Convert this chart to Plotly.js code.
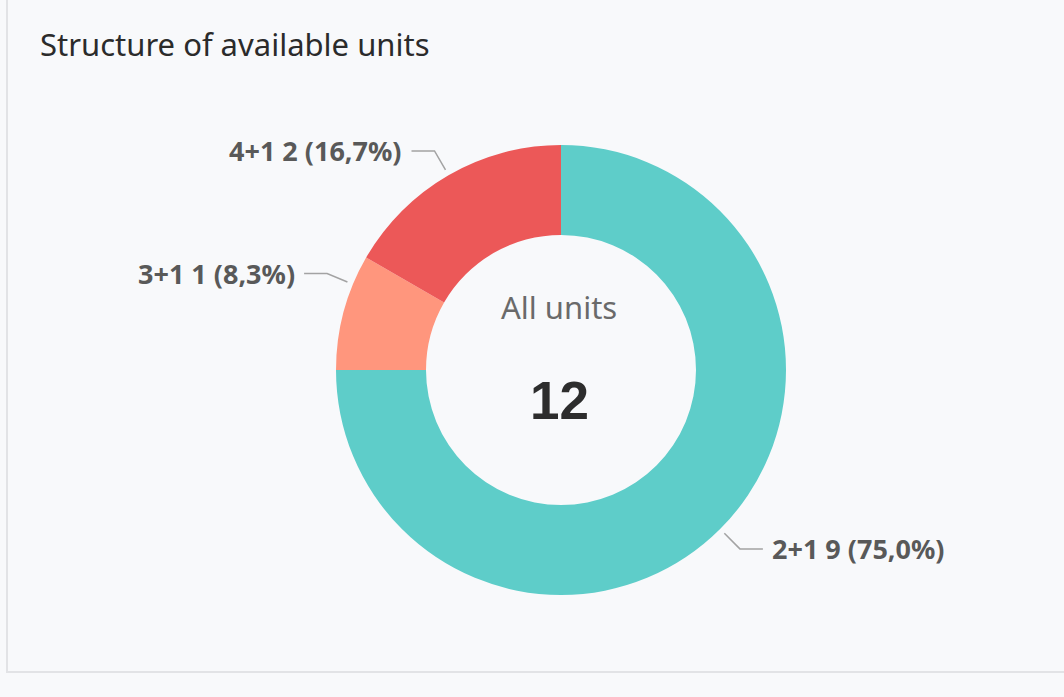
<!DOCTYPE html>
<html>
<head>
<meta charset="utf-8">
<script src="https://cdn.plot.ly/plotly-3.0.1.min.js"></script>
<style>
  html, body { margin: 0; padding: 0; background: #f8f9fb; }
  #chart { width: 1064px; height: 697px; }
</style>
</head>
<body>
<div id="chart"></div>
<script>
// ---- data ----
const categories = ['2+1', '3+1', '4+1'];
const unitCounts = [9, 1, 2];
const sliceColors = ['#5ecdc9', '#ff967d', '#ec5858'];
const chartTitle = 'Structure of available units';
const centerLabel = 'All units';

// ---- style / layout ----
const W = 1064, H = 697;
const domX = [336 / W, 786 / W];
const domY = [1 - 595 / H, 1 - 145 / H];
const labelAngleNudge = [0, 7.4, 0]; // degrees, label-layout adjustment
const lineColor = '#a3a3a3';
const labelColor = '#595959';

const total = unitCounts.reduce((a, b) => a + b, 0);
const fmtPct = v => (v / total * 100).toFixed(1).replace('.', ',');

// pie geometry (derived from domain, same rule as Plotly)
const cx = (domX[0] + domX[1]) / 2 * W;
const cy = H * (1 - (domY[0] + domY[1]) / 2);
const r = Math.min((domX[1] - domX[0]) * W, (domY[1] - domY[0]) * H) / 2;
const px = x => x / W;
const py = y => 1 - y / H;

const shapes = [];
const annotations = [];

// card border
shapes.push({
  type: 'path', xref: 'paper', yref: 'paper',
  path: `M ${px(7)} ${py(-10)} L ${px(7)} ${py(672)} L ${px(W + 10)} ${py(672)}`,
  line: { color: '#e2e3e6', width: 2 }
});

let cum = 0;
unitCounts.forEach((v, i) => {
  const mid = (cum + v / 2) / total * 360 + labelAngleNudge[i];
  cum += v;
  const t = mid * Math.PI / 180;
  const ux = Math.sin(t), uy = -Math.cos(t);
  const side = ux >= 0 ? 1 : -1;
  const p0 = [cx + (r + 6) * ux, cy + (r + 6) * uy];
  const p1 = [cx + (r + 28) * ux, cy + (r + 28) * uy];
  const p2 = [p1[0] + side * 23, p1[1]];
  shapes.push({
    type: 'path', xref: 'paper', yref: 'paper',
    path: `M ${px(p0[0])} ${py(p0[1])} L ${px(p1[0])} ${py(p1[1])} L ${px(p2[0])} ${py(p2[1])}`,
    line: { color: lineColor, width: 1.5 }
  });
  annotations.push({
    xref: 'paper', yref: 'paper',
    x: px(p2[0] + side * 7), y: py(p2[1]),
    xanchor: side > 0 ? 'left' : 'right', yanchor: 'middle',
    showarrow: false,
    text: `<b>${categories[i]} ${v} (${fmtPct(v)}%)</b>`,
    font: { family: 'Noto Sans, sans-serif', size: 27, color: labelColor }
  });
});

annotations.push({
  xref: 'paper', yref: 'paper', x: px(cx - 2), y: py(307),
  xanchor: 'center', yanchor: 'middle', showarrow: false,
  text: centerLabel,
  font: { family: 'Noto Sans, sans-serif', size: 31, color: '#6a6a6a' }
});
annotations.push({
  xref: 'paper', yref: 'paper', x: px(cx - 2), y: py(400),
  xanchor: 'center', yanchor: 'middle', showarrow: false,
  text: `<b>${total}</b>`,
  font: { family: 'Liberation Sans, Arial, sans-serif', size: 53, color: '#2d2d2d' }
});

const trace = {
  type: 'pie',
  labels: categories,
  values: unitCounts,
  hole: 0.6,
  sort: false,
  direction: 'clockwise',
  rotation: 0,
  textinfo: 'none',
  hoverinfo: 'label+value+percent',
  marker: { colors: sliceColors, line: { width: 0 } },
  domain: { x: domX, y: domY },
  showlegend: false
};

const layout = {
  width: W, height: H,
  margin: { l: 0, r: 0, t: 0, b: 0 },
  paper_bgcolor: '#f8f9fb',
  plot_bgcolor: '#f8f9fb',
  title: {
    text: chartTitle,
    x: 40 / W, xanchor: 'left', xref: 'container',
    y: 1 - 45 / H, yanchor: 'middle', yref: 'container',
    font: { family: 'Noto Sans, sans-serif', size: 31, color: '#2b2b2b' }
  },
  shapes: shapes,
  annotations: annotations,
  showlegend: false
};

Plotly.newPlot('chart', [trace], layout, { displayModeBar: false, staticPlot: false });
</script>
</body>
</html>
